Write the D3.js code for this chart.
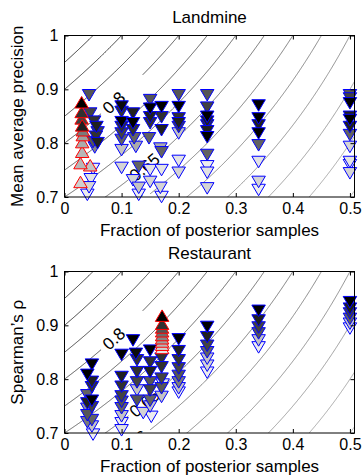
<!DOCTYPE html>
<html>
<head>
<meta charset="utf-8">
<script src="https://cdn.jsdelivr.net/npm/d3@7"></script>
<style>
  body { margin: 0; background: #fff; }
  text { font-family: "Liberation Sans", Arial, Helvetica, sans-serif; fill: #000; }
</style>
</head>
<body>
<svg id="chart" width="364" height="476"></svg>
<script>
// ---- data ----
const xTicks = [0, 0.1, 0.2, 0.3, 0.4, 0.5];
const yTicks = [0.7, 0.8, 0.9, 1];
const contourLevels = [0.35, 0.4, 0.45, 0.5, 0.55, 0.6, 0.65, 0.7, 0.75, 0.8, 0.85, 0.9, 0.95];
const contourLabelLevels = [0.8, 0.65, 0.6];

// [fraction, score, gray level (0 black .. 1 white)]
const landmineBlue = [
  [0.043, 0.889, 0.35], [0.045, 0.855, 0.27], [0.052, 0.840, 0.2], [0.056, 0.830, 0.13],
  [0.058, 0.820, 0.27], [0.055, 0.812, 0.2], [0.050, 0.802, 0.35], [0.053, 0.792, 0.55],
  [0.058, 0.800, 0.13], [0.050, 0.752, 0.97], [0.046, 0.733, 0.93], [0.043, 0.718, 0.87],
  [0.040, 0.704, 0.97],
  [0.100, 0.868, 0.05], [0.100, 0.858, 0.2], [0.100, 0.839, 0], [0.100, 0.830, 0.2],
  [0.100, 0.818, 0.27], [0.100, 0.806, 0.4], [0.100, 0.787, 0.8], [0.100, 0.754, 0.87],
  [0.120, 0.855, 0.13], [0.120, 0.837, 0], [0.120, 0.824, 0.2], [0.122, 0.809, 0.4],
  [0.125, 0.793, 0.7], [0.130, 0.756, 0.4], [0.120, 0.731, 0.87], [0.130, 0.717, 0.8],
  [0.130, 0.704, 0.97],
  [0.150, 0.880, 0.35], [0.150, 0.864, 0], [0.150, 0.848, 0.13], [0.150, 0.837, 0.2],
  [0.148, 0.809, 0.4], [0.150, 0.750, 0.93], [0.150, 0.728, 0.87],
  [0.168, 0.790, 0.7], [0.170, 0.867, 0], [0.170, 0.848, 0.2], [0.170, 0.824, 0.13],
  [0.170, 0.783, 0.4], [0.170, 0.750, 0.93], [0.168, 0.717, 0.87], [0.170, 0.700, 0.97],
  [0.200, 0.889, 0.35], [0.200, 0.867, 0], [0.200, 0.846, 0.2], [0.200, 0.837, 0.13],
  [0.200, 0.830, 0.27], [0.200, 0.818, 0.8], [0.200, 0.767, 0.93], [0.200, 0.745, 0.87],
  [0.250, 0.889, 0.35], [0.250, 0.866, 0.27], [0.250, 0.849, 0], [0.250, 0.840, 0.13],
  [0.250, 0.833, 0.2], [0.250, 0.822, 0.13], [0.250, 0.811, 0], [0.250, 0.778, 0.4],
  [0.250, 0.757, 0.97], [0.250, 0.745, 0.93], [0.250, 0.716, 0.87],
  [0.340, 0.870, 0], [0.340, 0.846, 0], [0.340, 0.833, 0.13], [0.340, 0.818, 0],
  [0.340, 0.796, 0.4], [0.340, 0.765, 0.93], [0.340, 0.728, 0.87], [0.340, 0.713, 0.97],
  [0.500, 0.889, 0.35], [0.500, 0.883, 0.27], [0.500, 0.874, 0], [0.500, 0.849, 0.13],
  [0.500, 0.843, 0], [0.500, 0.830, 0.13], [0.500, 0.815, 0.4], [0.500, 0.793, 0.87],
  [0.500, 0.765, 0.93], [0.500, 0.759, 0.97], [0.500, 0.744, 0.87]
];
const landmineRed = [
  [0.030, 0.876, 0], [0.030, 0.858, 0.2], [0.030, 0.846, 0.27], [0.031, 0.833, 0.13],
  [0.032, 0.824, 0.5], [0.032, 0.815, 0.65], [0.031, 0.802, 0.7], [0.031, 0.784, 0.75],
  [0.028, 0.763, 0.75], [0.045, 0.759, 0.8], [0.028, 0.728, 0.85]
];
const restaurantBlue = [
  [0.048, 0.827, 0], [0.040, 0.808, 0], [0.048, 0.795, 0.13], [0.048, 0.785, 0.2],
  [0.040, 0.770, 0.4], [0.048, 0.760, 0], [0.040, 0.755, 0.13], [0.048, 0.748, 0.27],
  [0.040, 0.733, 0.35], [0.048, 0.724, 0.4], [0.048, 0.712, 0.8], [0.050, 0.697, 0.97],
  [0.040, 0.745, 0.6], [0.040, 0.720, 0.5],
  [0.100, 0.845, 0], [0.100, 0.804, 0.13], [0.100, 0.786, 0.2], [0.100, 0.768, 0.27],
  [0.100, 0.758, 0.35], [0.100, 0.746, 0.4], [0.100, 0.731, 0.8], [0.100, 0.718, 0.97],
  [0.100, 0.705, 0.93],
  [0.120, 0.872, 0], [0.125, 0.847, 0.05], [0.127, 0.835, 0.2], [0.127, 0.813, 0.2],
  [0.127, 0.794, 0.27], [0.127, 0.779, 0.8], [0.127, 0.760, 0.35],
  [0.150, 0.853, 0], [0.150, 0.831, 0.2], [0.150, 0.813, 0.13], [0.150, 0.794, 0.35],
  [0.150, 0.779, 0.27], [0.150, 0.760, 0.4], [0.150, 0.749, 0.8], [0.152, 0.730, 0.97],
  [0.138, 0.737, 0.87],
  [0.170, 0.838, 0.2], [0.170, 0.822, 0.2], [0.170, 0.801, 0.27], [0.170, 0.783, 0.35],
  [0.170, 0.767, 0.8], [0.172, 0.790, 0.93],
  [0.200, 0.874, 0], [0.200, 0.852, 0.13], [0.200, 0.835, 0.2], [0.200, 0.820, 0.27],
  [0.200, 0.806, 0.35], [0.200, 0.794, 0.5], [0.200, 0.783, 0.8], [0.200, 0.775, 0.97],
  [0.250, 0.897, 0], [0.250, 0.878, 0.13], [0.250, 0.862, 0.27], [0.250, 0.850, 0.4],
  [0.250, 0.838, 0.8], [0.250, 0.825, 0.87], [0.250, 0.812, 0.97],
  [0.340, 0.927, 0], [0.340, 0.909, 0.13], [0.340, 0.896, 0.27], [0.340, 0.885, 0.35],
  [0.340, 0.872, 0.8], [0.340, 0.859, 0.97],
  [0.500, 0.943, 0], [0.500, 0.931, 0.13], [0.500, 0.922, 0.27], [0.500, 0.912, 0.4],
  [0.500, 0.903, 0.8], [0.500, 0.894, 0.97]
];
const restaurantRed = [
  [0.171, 0.918, 0], [0.171, 0.903, 0.2], [0.171, 0.896, 0.35], [0.171, 0.889, 0.45],
  [0.171, 0.882, 0.55], [0.171, 0.876, 0.65], [0.171, 0.870, 0.75], [0.171, 0.864, 0.85],
  [0.171, 0.858, 0.93]
];

// ---- layout ----
const svg = d3.select('#chart');
const plotLeft = 64.5, plotRight = 354.5, plotH = 161.5;
const grayFill = d3.scaleLinear().domain([0, 1]).range(['#000000', '#f4f4f4']);
const lineGray = d3.scaleLinear().domain([0.95, 0.35]).range(['#000000', '#a3a3a3']);
const fmt = d => (d === 0 || d === 1) ? String(d) : d.toFixed(1);

const panels = [
  { title: 'Landmine', ylabel: 'Mean average precision', top: 35.5, blue: landmineBlue, red: landmineRed },
  { title: 'Restaurant', ylabel: 'Spearman\u2019s \u03c1', top: 271.5, blue: restaurantBlue, red: restaurantRed }
];

// label centres (along each labelled contour) and the gaps cut around them
const labelX = { 0.8: 0.086, 0.65: 0.14, 0.6: 0.125 };
const gapX = { 0.8: [0.064, 0.137], 0.65: [0.112, 0.168], 0.6: [0.1, 0.15] };

function triangle(w, h, down) {
  const s = down ? 1 : -1;
  return `M${-w / 2},${-s * h / 2}L${w / 2},${-s * h / 2}L0,${s * h / 2}Z`;
}

panels.forEach((p, i) => {
  const x = d3.scaleLinear().domain([0, 0.508]).range([plotLeft, plotRight]);
  const y = d3.scaleLinear().domain([0.7, 1]).range([p.top + plotH, p.top]);
  const g = svg.append('g');

  const clipId = 'clip' + i;
  g.append('clipPath').attr('id', clipId)
    .append('rect').attr('x', plotLeft).attr('y', p.top)
    .attr('width', plotRight - plotLeft).attr('height', plotH);

  // contour lines of score * (1 - fraction)
  const samples = d3.range(0, 0.5101, 0.001);
  const line = d3.line().x(d => x(d[0])).y(d => y(d[1])).defined(d => d[2]);
  const cg = g.append('g').attr('clip-path', `url(#${clipId})`);
  contourLevels.forEach(c => {
    const gap = gapX[c];
    const pts = samples.map(fx => {
      const fy = c / (1 - fx);
      const ok = fy >= 0.69 && fy <= 1.01 && !(gap && fx > gap[0] && fx < gap[1]);
      return [fx, fy, ok];
    });
    cg.append('path').attr('d', line(pts))
      .attr('fill', 'none').attr('stroke', lineGray(c)).attr('stroke-width', 0.8);
  });
  contourLabelLevels.forEach(c => {
    const fx = labelX[c];
    const fy = c / (1 - fx);
    const slope = c / ((1 - fx) * (1 - fx));
    const dxp = x(fx + 0.01) - x(fx), dyp = y(fy) - y(fy + slope * 0.01);
    const ang = -Math.atan2(dyp, dxp) * 180 / Math.PI;
    cg.append('text')
      .attr('transform', `translate(${x(fx)},${y(fy)}) rotate(${ang})`)
      .attr('text-anchor', 'middle').attr('dy', '0.36em')
      .style('font-size', '17px').text(String(c));
  });

  // markers: lighter first, darker on top
  const drawMarkers = (data, stroke, down) => {
    const sorted = data.slice().sort((a, b) => b[2] - a[2]);
    g.append('g').selectAll('path').data(sorted).join('path')
      .attr('transform', d => `translate(${x(d[0])},${y(d[1])})`)
      .attr('d', triangle(13.5, 11.5, down))
      .attr('fill', d => grayFill(d[2]))
      .attr('stroke', stroke).attr('stroke-width', 1);
  };
  drawMarkers(p.blue, '#0000ff', true);
  drawMarkers(p.red, '#ff0000', false);

  // box and inward ticks
  g.append('rect').attr('x', plotLeft).attr('y', p.top)
    .attr('width', plotRight - plotLeft).attr('height', plotH)
    .attr('fill', 'none').attr('stroke', '#000').attr('stroke-width', 1);

  const styleAxis = sel => {
    sel.attr('font-size', null).attr('font-family', null);
    sel.select('.domain').remove();
    sel.selectAll('line').attr('stroke', '#000');
    sel.selectAll('text').style('font-size', '16px');
  };
  g.append('g').attr('transform', `translate(0,${p.top + plotH})`)
    .call(d3.axisBottom(x).tickValues(xTicks).tickFormat(fmt).tickSizeInner(-4).tickSizeOuter(0).tickPadding(6))
    .call(styleAxis);
  g.append('g').attr('transform', `translate(0,${p.top})`)
    .call(d3.axisTop(x).tickValues(xTicks).tickFormat('').tickSizeInner(-4).tickSizeOuter(0))
    .call(styleAxis);
  g.append('g').attr('transform', `translate(${plotLeft},0)`)
    .call(d3.axisLeft(y).tickValues(yTicks).tickFormat(fmt).tickSizeInner(-4).tickSizeOuter(0).tickPadding(6))
    .call(styleAxis);
  g.append('g').attr('transform', `translate(${plotRight},0)`)
    .call(d3.axisRight(y).tickValues(yTicks).tickFormat('').tickSizeInner(-4).tickSizeOuter(0))
    .call(styleAxis);

  // titles and axis labels
  const cx = (plotLeft + plotRight) / 2;
  g.append('text').attr('x', cx).attr('y', p.top - 13)
    .attr('text-anchor', 'middle').style('font-size', '17px').text(p.title);
  g.append('text').attr('x', cx).attr('y', p.top + plotH + 39)
    .attr('text-anchor', 'middle').style('font-size', '17px').text('Fraction of posterior samples');
  g.append('text')
    .attr('transform', `translate(23,${p.top + plotH / 2}) rotate(-90)`)
    .attr('text-anchor', 'middle').style('font-size', '17px').text(p.ylabel);
});
</script>
</body>
</html>
